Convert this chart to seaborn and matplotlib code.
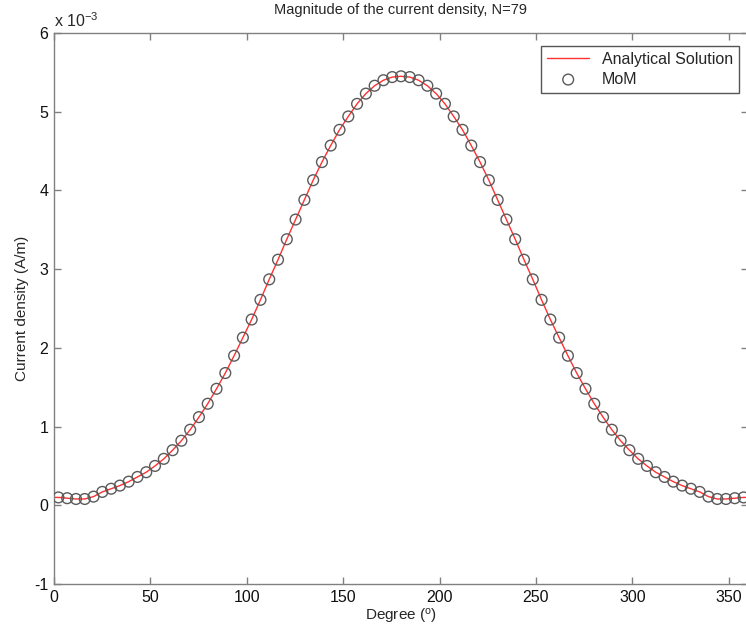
import numpy as np
import pandas as pd
import seaborn as sns
import matplotlib.pyplot as plt

# MoM segment centres, N = 79 segments around the cylinder
N = 79
degrees = (np.arange(N) + 0.5) * 360.0 / N

# |J|, in units of 1e-3 A/m
mom_values = [
    0.10, 0.09, 0.08, 0.08, 0.11, 0.17, 0.21, 0.25, 0.30, 0.36,
    0.42, 0.50, 0.59, 0.70, 0.82, 0.96, 1.12, 1.29, 1.48, 1.68,
    1.90, 2.13, 2.36, 2.61, 2.87, 3.12, 3.38, 3.63, 3.88, 4.13,
    4.36, 4.57, 4.77, 4.94, 5.10, 5.23, 5.33, 5.40, 5.44, 5.45,
    5.44, 5.40, 5.33, 5.23, 5.10, 4.94, 4.77, 4.57, 4.36, 4.13,
    3.88, 3.63, 3.38, 3.12, 2.87, 2.61, 2.36, 2.13, 1.90, 1.68,
    1.48, 1.29, 1.12, 0.96, 0.82, 0.70, 0.59, 0.50, 0.42, 0.36,
    0.30, 0.25, 0.21, 0.17, 0.11, 0.08, 0.08, 0.09, 0.10,
]
# analytical curve runs edge to edge
edge_value = 0.10

mom = pd.DataFrame({"deg": degrees, "J": mom_values})
analytic = pd.DataFrame({
    "deg": np.concatenate([[0.0], degrees, [360.0]]),
    "J": [edge_value] + mom_values + [edge_value],
})

sns.set_style("ticks")
plt.rcParams['font.family'] = ['Liberation Sans', 'DejaVu Sans']
plt.rcParams['mathtext.fontset'] = 'custom'
plt.rcParams['mathtext.rm'] = 'Liberation Sans'
plt.rcParams['mathtext.it'] = 'Liberation Sans'
plt.rcParams['axes.unicode_minus'] = False

fig = plt.figure(figsize=(7.46, 6.34), dpi=100)
ax = fig.add_axes([54 / 746, 1 - 584 / 634, 694 / 746, 551 / 634])

sns.lineplot(data=analytic, x="deg", y="J", ax=ax, color="#ff3030", linewidth=1.0,
             label="Analytical Solution", sort=True, estimator=None)
sns.scatterplot(data=mom, x="deg", y="J", ax=ax, marker="o", s=60,
                facecolors="none", edgecolors="#5a5a5a", linewidths=1.0,
                label="MoM", zorder=3)

ax.set_xlim(0, 360)
ax.set_ylim(-1, 6)
ax.set_xticks(range(0, 351, 50))
ax.set_yticks(range(-1, 7))

gray = "#808080"
for sp in ax.spines.values():
    sp.set_visible(True)
    sp.set_color(gray)
    sp.set_linewidth(1.0)
ax.tick_params(direction="in", length=5, width=1, color=gray, top=True, right=True,
               labelsize=11.5, labelcolor="#111111", pad=4)

ax.set_title("Magnitude of the current density, N=79", fontsize=10.5, pad=14)
ax.set_xlabel(r"Degree ($^{\rm o}$)", fontsize=11, labelpad=2)
ax.set_ylabel("Current density (A/m)", fontsize=11, labelpad=4)
ax.text(0.0, 1.005, r"x 10$^{-3}$", transform=ax.transAxes, fontsize=11.5,
        ha="left", va="bottom")

leg = ax.legend(loc="upper right", bbox_to_anchor=(0.992, 0.983), fontsize=11.5,
                frameon=True, fancybox=False, borderpad=0.4, handlelength=2.6,
                labelspacing=0.3, borderaxespad=0.2)
leg.get_frame().set_edgecolor("#555555")
leg.get_frame().set_linewidth(1.0)
leg.get_frame().set_alpha(1.0)

fig.savefig("out.png", dpi=100)
